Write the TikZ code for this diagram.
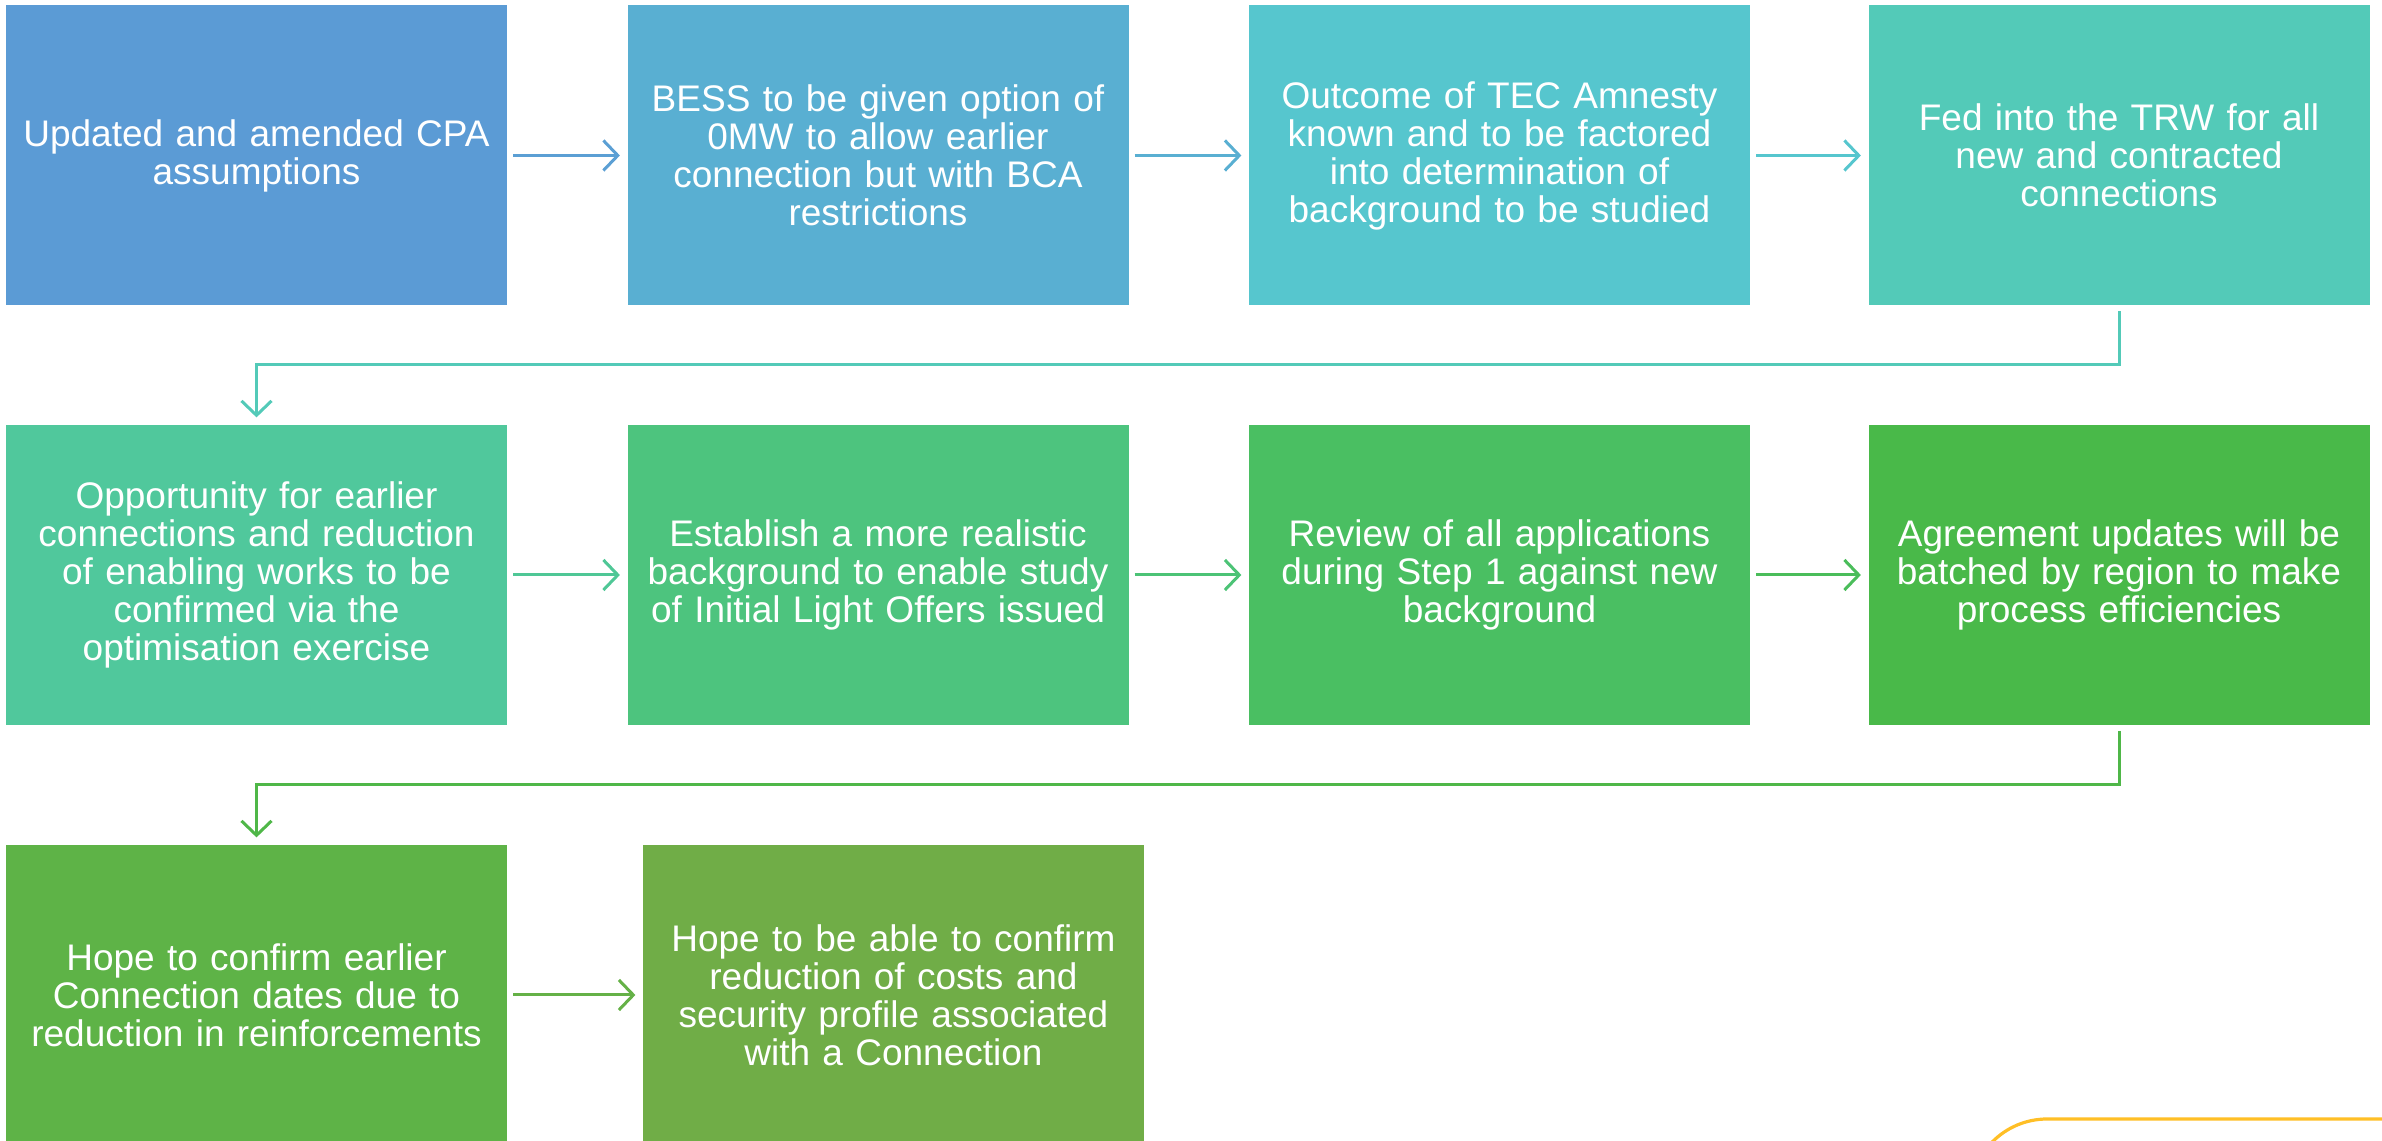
\documentclass[tikz,border=0pt]{standalone}
\usepackage{fontspec}
\setmainfont{Liberation Sans}
\usetikzlibrary{arrows.meta}

\definecolor{cA}{HTML}{5B9BD5}
\definecolor{cB}{HTML}{59AFD2}
\definecolor{cC}{HTML}{56C6CE}
\definecolor{cD}{HTML}{53CAB8}
\definecolor{cE}{HTML}{50C89C}
\definecolor{cF}{HTML}{4DC47E}
\definecolor{cG}{HTML}{4ABF62}
\definecolor{cH}{HTML}{49B949}
\definecolor{cI}{HTML}{5EB347}
\definecolor{cJ}{HTML}{70AD47}
\definecolor{cY}{HTML}{FFBF26}

\tikzset{
  stepbox/.style={fill=#1, draw=none, minimum width=125.25pt, minimum height=75pt,
    inner sep=0pt, text width=123pt, align=center, text=white,
    font=\fontsize{9.25}{9.5}\selectfont},
  flow/.style={draw=#1, line width=0.75pt, -{Straight Barb[length=3.6pt,width=7.5pt]},
    shorten <=1.3pt, shorten >=1.7pt}
}

\begin{document}
\begin{tikzpicture}[x=0.25pt,y=-0.25pt]
\useasboundingbox (0,0) rectangle (2382,1141);
% first row
\node[stepbox=cA] (s1) at (256.5,155.5) {Updated and amended CPA\\assumptions};
\node[stepbox=cB] (s2) at (878,155.5) {BESS to be given option of\\0MW to allow earlier\\connection but with BCA\\restrictions};
\node[stepbox=cC] (s3) at (1499.5,155.5) {Outcome of TEC Amnesty\\known and to be factored\\into determination of\\background to be studied};
\node[stepbox=cD] (s4) at (2119,155.5) {Fed into the TRW for all\\new and contracted\\connections};
% second row
\node[stepbox=cE] (s5) at (256.5,575) {Opportunity for earlier\\connections and reduction\\of enabling works to be\\confirmed via the\\optimisation exercise};
\node[stepbox=cF] (s6) at (878,575) {Establish a more realistic\\background to enable study\\of Initial Light Offers issued};
\node[stepbox=cG] (s7) at (1499.5,575) {Review of all applications\\during Step 1 against new\\background};
\node[stepbox=cH] (s8) at (2119,575) {Agreement updates will be\\batched by region to make\\process efficiencies};
% third row
\node[stepbox=cI] (s9) at (256.5,995) {Hope to confirm earlier\\Connection dates due to\\reduction in reinforcements};
\node[stepbox=cJ] (s10) at (893.5,995) {Hope to be able to confirm\\reduction of costs and\\security profile associated\\with a Connection};

\draw[flow=cA!80!cB] (s1) -- (s2);
\draw[flow=cB] (s2) -- (s3);
\draw[flow=cC] (s3) -- (s4);
\draw[flow=cE!80!cF] (s5) -- (s6);
\draw[flow=cF!70!cG] (s6) -- (s7);
\draw[flow=cG!70!cH] (s7) -- (s8);
\draw[flow=cI!60!cJ] (s9) -- (s10);

\coordinate (k1) at (2119,365);
\coordinate (k2) at (256.5,365);
\draw[flow=cD] (s4) -- (k1) -- (k2) -- (s5);
\coordinate (k3) at (2119,785);
\coordinate (k4) at (256.5,785);
\draw[flow=cH!70!cI] (s8) -- (k3) -- (k4) -- (s9);

\draw[cY, line width=0.8pt, rounded corners=19.3pt] (1970,1300) -- (1970,1119) -- (2450,1119);
\end{tikzpicture}
\end{document}
